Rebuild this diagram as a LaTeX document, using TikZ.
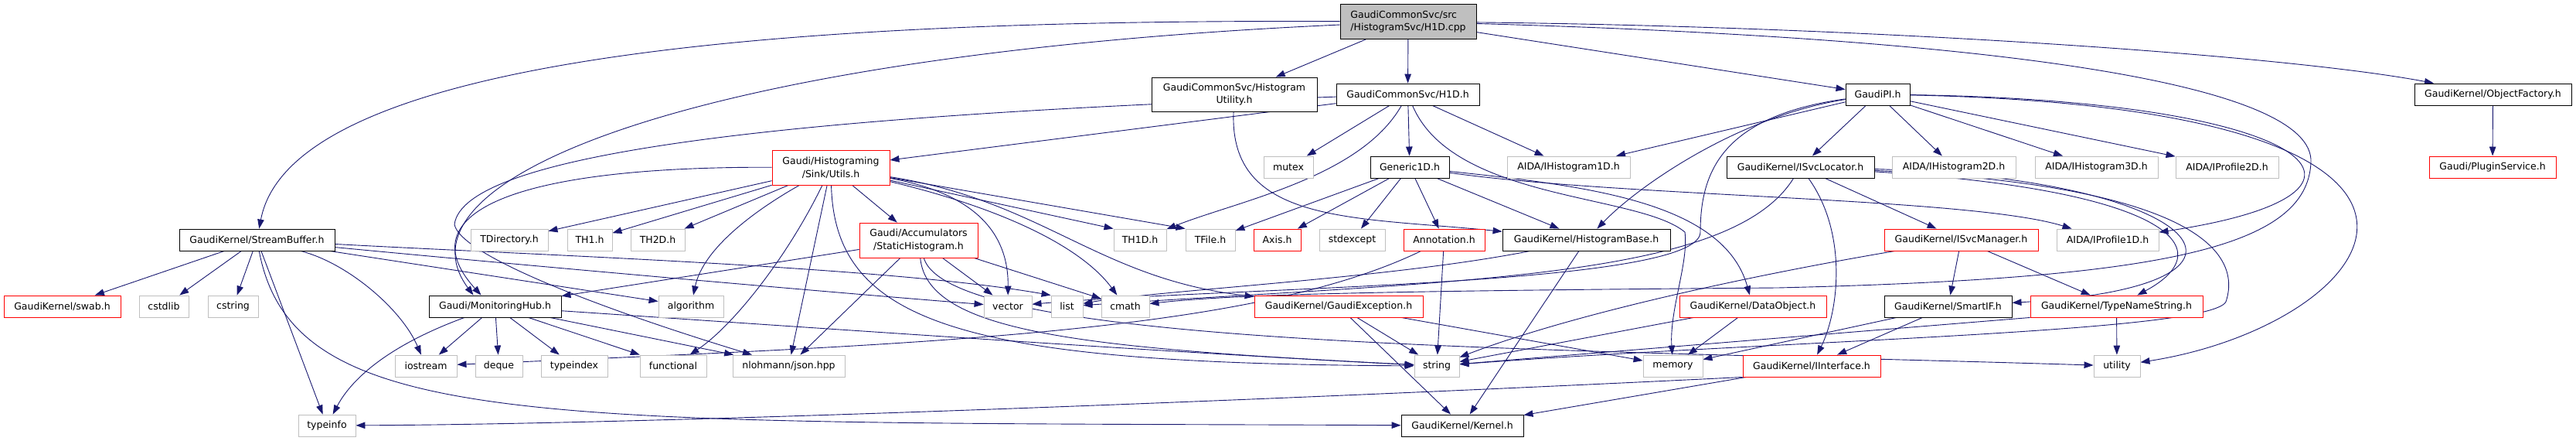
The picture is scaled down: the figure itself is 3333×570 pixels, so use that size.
\documentclass[tikz,border=0pt]{standalone}
\usepackage{fontspec}
\setmainfont{DejaVu Sans}
\usepackage{xcolor}
\usetikzlibrary{arrows.meta,backgrounds}
\definecolor{edgeblue}{HTML}{191970}
\definecolor{grey75}{HTML}{BFBFBF}

\begin{document}
\begin{tikzpicture}[x=1pt, y=-1pt,
    every node/.style={rectangle, draw=black, fill=white, align=center, inner xsep=3pt, inner ysep=0pt,
        minimum height=28, line width=0.9pt, font=\fontsize{12.5}{16.7}\selectfont},
    sys/.style={draw=grey75},
    trunc/.style={draw=red},
    rootfile/.style={fill=grey75, align=left},
    tall/.style={minimum height=45},
    dep/.style={draw=edgeblue, line width=0.9pt, -{Triangle[length=12pt, width=8.5pt]}}]
    \useasboundingbox (0,0) rectangle (3333,570);

    \node[rootfile, tall, minimum width=176] (cpp) at (1822,28) {GaudiCommonSvc/src\\/HistogramSvc/H1D.cpp};

    \node[minimum width=214, minimum height=44] (hutil) at (1597,122) {GaudiCommonSvc/Histogram\\Utility.h};
    \node[minimum width=185] (h1dh) at (1821.5,122) {GaudiCommonSvc/H1D.h};
    \node[minimum width=83] (gaudipi) at (2429.5,122) {GaudiPI.h};
    \node[minimum width=203] (objfac) at (3225.5,122) {GaudiKernel/ObjectFactory.h};

    \node[trunc, tall, minimum width=152] (utils) at (1075,216.5) {Gaudi/Histograming\\/Sink/Utils.h};
    \node[sys, minimum width=64] (mutex) at (1667,216) {mutex};
    \node[minimum width=102] (generic) at (1824,216) {Generic1D.h};
    \node[sys, minimum width=159] (ih1d) at (2029.5,216) {AIDA/IHistogram1D.h};
    \node[minimum width=191] (isvcloc) at (2329.5,216) {GaudiKernel/ISvcLocator.h};
    \node[sys, minimum width=160] (ih2d) at (2528,216) {AIDA/IHistogram2D.h};
    \node[sys, minimum width=159] (ih3d) at (2712.5,216) {AIDA/IHistogram3D.h};
    \node[sys, minimum width=133] (ip2d) at (2881.5,216) {AIDA/IProfile2D.h};
    \node[trunc, minimum width=164] (plugin) at (3225,216) {Gaudi/PluginService.h};

    \node[minimum width=201] (streambuf) at (332.5,310) {GaudiKernel/StreamBuffer.h};
    \node[sys, minimum width=100] (tdir) at (659,310) {TDirectory.h};
    \node[sys, minimum width=58] (th1) at (763,310) {TH1.h};
    \node[sys, minimum width=70] (th2d) at (851,310) {TH2D.h};
    \node[trunc, tall, minimum width=153] (statichist) at (1188.5,310.5) {Gaudi/Accumulators\\/StaticHistogram.h};
    \node[sys, minimum width=68] (th1d) at (1475,310) {TH1D.h};
    \node[sys, minimum width=64] (tfile) at (1566,310) {TFile.h};
    \node[trunc, minimum width=61] (axis) at (1652.5,310) {Axis.h};
    \node[sys, minimum width=85] (stdexcept) at (1749.5,310) {stdexcept};
    \node[trunc, minimum width=105] (annot) at (1868.5,310) {Annotation.h};
    \node[minimum width=217] (histbase) at (2052.5,310) {GaudiKernel/HistogramBase.h};
    \node[trunc, minimum width=199] (isvcmgr) at (2537.5,310) {GaudiKernel/ISvcManager.h};
    \node[sys, minimum width=132] (ip1d) at (2727,310) {AIDA/IProfile1D.h};

    \node[trunc, minimum width=151] (swab) at (80.5,396) {GaudiKernel/swab.h};
    \node[sys, minimum width=64] (cstdlib) at (212,396) {cstdlib};
    \node[sys, minimum width=65] (cstring) at (301.5,396) {cstring};
    \node[minimum width=171] (monhub) at (640.5,396) {Gaudi/MonitoringHub.h};
    \node[sys, minimum width=84] (algorithm) at (894,396) {algorithm};
    \node[sys, minimum width=62] (vector) at (1304,396) {vector};
    \node[sys, minimum width=41] (list) at (1380.5,396) {list};
    \node[sys, minimum width=62] (cmath) at (1456,396) {cmath};
    \node[trunc, minimum width=218] (gexc) at (1732,396) {GaudiKernel/GaudiException.h};
    \node[trunc, minimum width=190] (dataobj) at (2268,396) {GaudiKernel/DataObject.h};
    \node[minimum width=165] (smartif) at (2520.5,396) {GaudiKernel/SmartIF.h};
    \node[trunc, minimum width=223] (typename) at (2738.5,396) {GaudiKernel/TypeNameString.h};

    \node[sys, minimum width=80] (iostream) at (551,473) {iostream};
    \node[sys, minimum width=61] (deque) at (645.5,473) {deque};
    \node[sys, minimum width=86] (typeindex) at (743,473) {typeindex};
    \node[sys, minimum width=86] (functional) at (871,473) {functional};
    \node[sys, minimum width=145] (json) at (1020.5,473) {nlohmann/json.hpp};
    \node[sys, minimum width=58] (string) at (1859,473) {string};
    \node[sys, minimum width=77] (memory) at (2164.5,473) {memory};
    \node[trunc, minimum width=178] (iinterface) at (2344,473) {GaudiKernel/IInterface.h};
    \node[sys, minimum width=60] (utility) at (2739,473) {utility};

    \node[sys, minimum width=74] (typeinfo) at (423,550) {typeinfo};
    \node[minimum width=158] (kernel) at (1892,550) {GaudiKernel/Kernel.h};

    \begin{pgfonlayer}{background}
    \draw[dep] (cpp) .. controls (1100,25) and (380,60) .. (streambuf);
    \draw[dep] (cpp) .. controls (900,70) and (500,230) .. ([xshift=-28pt]monhub.north);
    \draw[dep] (cpp) -- (hutil);
    \draw[dep] (cpp) -- (h1dh);
    \draw[dep] (cpp) -- (gaudipi);
    \draw[dep] (cpp) .. controls (2400,34) and (2950,70) .. (objfac);
    \draw[dep] (cpp) .. controls (2600,50) and (2995,110) .. (2990,210) .. controls (2985,320) and (2800,360) .. (2300,372) .. controls (1800,376) and (1600,380) .. (cmath);

    \draw[dep] (h1dh) -- (utils);
    \draw[dep] (h1dh) .. controls (1000,150) and (600,200) .. (588,290) .. controls (595,330) and (780,400) .. (json);
    \draw[dep] (h1dh) -- (mutex);
    \draw[dep] (h1dh) .. controls (1760,230) and (1600,260) .. (th1d);
    \draw[dep] (h1dh) -- (generic);
    \draw[dep] (h1dh) .. controls (1880,260) and (2120,250) .. (2180,300) .. controls (2185,340) and (2160,400) .. (memory);
    \draw[dep] (h1dh) -- (ih1d);

    \draw[dep] (generic) -- (tfile);
    \draw[dep] (generic) -- (axis);
    \draw[dep] (generic) -- (stdexcept);
    \draw[dep] (generic) -- (annot);
    \draw[dep] (generic) -- (histbase);
    \draw[dep] (generic) .. controls (2100,255) and (2550,255) .. (ip1d);
    \draw[dep] (generic) .. controls (2050,240) and (2230,260) .. (dataobj);

    \draw[dep] (hutil) .. controls (1590,290) and (1750,280) .. (histbase);

    \draw[dep] (utils) .. controls (650,215) and (530,280) .. ([xshift=-18pt]monhub.north);
    \draw[dep] (utils) -- (tdir);
    \draw[dep] (utils) -- (th1);
    \draw[dep] (utils) -- (th2d);
    \draw[dep] (utils) .. controls (980,270) and (910,320) .. (algorithm);
    \draw[dep] (utils) .. controls (1020,330) and (950,420) .. (functional);
    \draw[dep] (utils) -- (json);
    \draw[dep] (utils) .. controls (1080,420) and (1250,470) .. (string);
    \draw[dep] (utils) -- (statichist);
    \draw[dep] (utils) -- (tfile.north west);
    \draw[dep] (utils) -- (th1d.north west);
    \draw[dep] (utils) .. controls (1260,250) and (1305,300) .. (vector);
    \draw[dep] (utils) .. controls (1300,270) and (1400,320) .. (cmath);
    \draw[dep] (utils) .. controls (1350,260) and (1420,360) .. (gexc);

    \draw[dep] (statichist) -- (monhub);
    \draw[dep] (statichist) -- (json);
    \draw[dep] (statichist) -- (vector);
    \draw[dep] (statichist) -- (cmath);
    \draw[dep] (statichist) .. controls (1200,430) and (1400,450) .. (string);
    \draw[dep] (statichist) .. controls (1230,450) and (2000,450) .. (utility);

    \draw[dep] (monhub) .. controls (520,440) and (460,480) .. (typeinfo);
    \draw[dep] (monhub) -- (iostream);
    \draw[dep] (monhub) -- (deque);
    \draw[dep] (monhub) -- (typeindex);
    \draw[dep] (monhub) -- (functional);
    \draw[dep] (monhub) -- (json);
    \draw[dep] (monhub) .. controls (1000,420) and (1500,455) .. (string);

    \draw[dep] (streambuf) -- (swab);
    \draw[dep] (streambuf) -- (cstdlib);
    \draw[dep] (streambuf) -- (cstring);
    \draw[dep] (streambuf) -- (typeinfo);
    \draw[dep] (streambuf) .. controls (450,340) and (520,400) .. (iostream);
    \draw[dep] (streambuf) .. controls (380,560) and (700,545) .. (kernel);
    \draw[dep] (streambuf) -- (algorithm);
    \draw[dep] (streambuf) .. controls (700,345) and (1100,380) .. (vector);
    \draw[dep] (streambuf) .. controls (700,330) and (1150,345) .. (list.north west);

    \draw[dep] (gexc) -- (string);
    \draw[dep] (gexc) -- (kernel);
    \draw[dep] (gexc) -- (memory);

    \draw[dep] (annot) -- (string);
    \draw[dep] (annot) .. controls (1620,430) and (1200,445) .. (iostream);

    \draw[dep] (histbase) -- (kernel);
    \draw[dep] (histbase) .. controls (1800,360) and (1500,375) .. (list);

    \draw[dep] (gaudipi) -- (isvcloc);
    \draw[dep] (gaudipi) -- (ih2d);
    \draw[dep] (gaudipi) -- (ih3d);
    \draw[dep] (gaudipi) -- (ip2d);
    \draw[dep] (gaudipi) .. controls (3000,130) and (3130,250) .. (ip1d);
    \draw[dep] (gaudipi) .. controls (3300,140) and (3080,420) .. (utility);
    \draw[dep] (gaudipi) -- (ih1d);
    \draw[dep] (gaudipi) .. controls (2250,150) and (2120,240) .. (histbase);
    \draw[dep] (gaudipi) .. controls (2230,150) and (2200,220) .. (2200,300) .. controls (2200,370) and (1600,370) .. (vector);

    \draw[dep] (isvcloc) .. controls (2390,300) and (2380,400) .. (iinterface);
    \draw[dep] (isvcloc) -- (isvcmgr);
    \draw[dep] (isvcloc) .. controls (2850,230) and (2980,370) .. (smartif);
    \draw[dep] (isvcloc) .. controls (2800,245) and (2880,320) .. (typename);
    \draw[dep] (isvcloc) .. controls (2850,240) and (2900,330) .. (2880,390) .. controls (2860,430) and (2300,440) .. (string);
    \draw[dep] (isvcloc) .. controls (2240,360) and (1900,362) .. (list);

    \draw[dep] (isvcmgr) .. controls (2300,350) and (2050,400) .. (string);
    \draw[dep] (isvcmgr) -- (smartif);
    \draw[dep] (isvcmgr) -- (typename);

    \draw[dep] (smartif) -- (iinterface);
    \draw[dep] (smartif) -- (memory);

    \draw[dep] (typename) -- (utility);
    \draw[dep] (typename.south west) -- (string);

    \draw[dep] (dataobj) -- (string);
    \draw[dep] (dataobj) -- (memory);

    \draw[dep] (iinterface.south west) .. controls (1800,510) and (900,548) .. (typeinfo);
    \draw[dep] (iinterface) -- (kernel);

    \draw[dep] (objfac) -- (plugin);
    \end{pgfonlayer}
\end{tikzpicture}
\end{document}
